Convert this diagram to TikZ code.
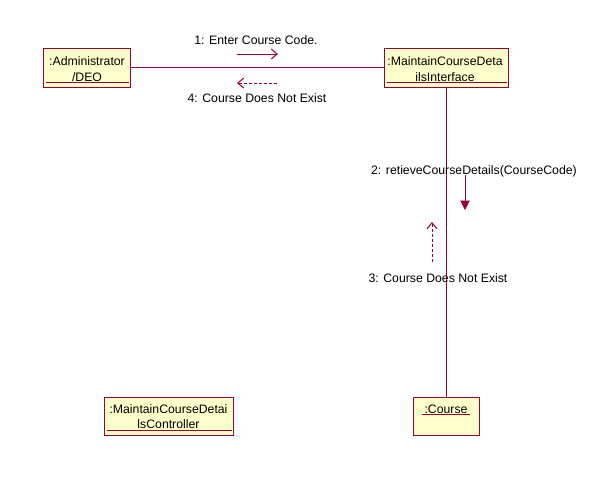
\documentclass[tikz,border=0pt]{standalone}
\usepackage{fontspec}
\setmainfont{Liberation Sans}
\usetikzlibrary{arrows.meta}
\definecolor{umlline}{RGB}{153,0,51}
\definecolor{umlfill}{RGB}{255,255,204}
\tikzset{
  obj/.style={draw=umlline, fill=umlfill, line width=0.75pt, inner sep=0pt},
  lbl/.style={font=\fontsize{9.2}{11.5}\selectfont, inner sep=0pt, align=center, text=black},
  link/.style={draw=umlline, line width=0.75pt},
  msg/.style={draw=umlline, line width=0.75pt, -{Straight Barb[length=4.5pt,width=7.5pt]}},
  msgret/.style={msg, dashed, dash pattern=on 2.2pt off 1.6pt},
  msgcall/.style={draw=umlline, line width=0.75pt, -{Triangle[length=7pt,width=7pt]}}
}
\begin{document}
\begin{tikzpicture}[x=0.75pt,y=-0.75pt]
\useasboundingbox (0,0) rectangle (611,497);
% objects
\node[obj, minimum width=65.25pt, minimum height=29.25pt] (admin) at (86.5,67.5) {};
\node[obj, minimum width=93pt, minimum height=29.25pt] (iface) at (446,67.5) {};
\node[obj, minimum width=49.5pt, minimum height=28.5pt] (course) at (446,416) {};
\node[obj, minimum width=96.75pt, minimum height=28.5pt] (ctrl) at (168.5,416) {};
% labels
\node[lbl] (adminl) at (87,69) {:Administrator\\/DEO};
\node[lbl] (ifacel) at (445,69) {:MaintainCourseDeta\\ilsInterface};
\node[lbl] (coursel) at (446,409) {:Course};
\node[lbl] (ctrll) at (168.5,416.5) {:MaintainCourseDetai\\lsController};
% underlines
\draw[link] ([xshift=2.25pt,yshift=3.75pt]admin.south west) -- ([xshift=-1.5pt,yshift=3.75pt]admin.south east);
\draw[link] ([xshift=2.25pt,yshift=3.75pt]iface.south west) -- ([xshift=-1.5pt,yshift=3.75pt]iface.south east);
\draw[link] ([xshift=2.25pt,yshift=3.75pt]ctrl.south west) -- ([xshift=-1.5pt,yshift=3.75pt]ctrl.south east);
\draw[link] (422,414) -- (470,414);
% links
\draw[link] (admin) -- (iface);
\draw[link] (iface) -- (course);
% messages
\coordinate (m1a) at (237,54); \coordinate (m1b) at (278,54);
\draw[msg] (m1a) -- (m1b);
\node[lbl] (m1l) at (256,40) {1: Enter Course Code.};
\coordinate (m4a) at (277,83); \coordinate (m4b) at (237,83);
\draw[msgret] (m4a) -- (m4b);
\node[lbl] (m4l) at (257,98) {4: Course Does Not Exist};
\coordinate (m2a) at (465,175); \coordinate (m2b) at (465,210);
\draw[msgcall] (m2a) -- (m2b);
\node[lbl] (m2l) at (474,171) {2: retieveCourseDetails(CourseCode)};
\coordinate (m3a) at (432,262); \coordinate (m3b) at (432,222);
\draw[msgret] (m3a) -- (m3b);
\node[lbl] (m3l) at (438,278) {3: Course Does Not Exist};
\end{tikzpicture}
\end{document}
